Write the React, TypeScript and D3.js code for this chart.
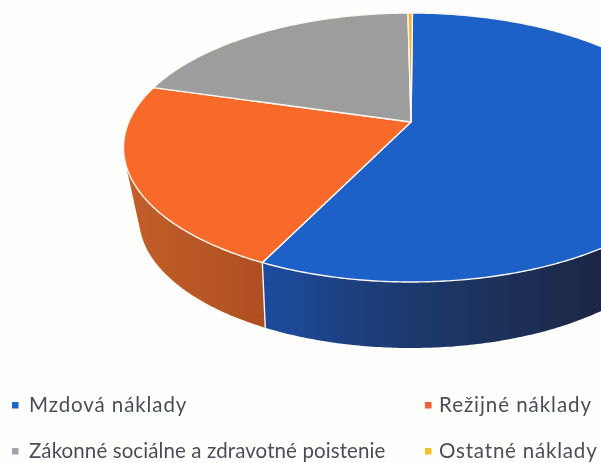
import React, { useEffect, useRef } from 'react';
import * as d3 from 'd3';

const categories = ['Mzdová náklady', 'Režijné náklady', 'Zákonné sociálne a zdravotné poistenie', 'Ostatné náklady'];
const shares = [57.1, 22.3, 20.3, 0.3];
const topColors = ['#1a61c8', '#f76b2b', '#9d9d9d', '#f2b632'];
const legendColors = ['#1c66cc', '#f2603a', '#a3a3ab', '#f5bf2f'];
// the long label is set tighter than the others in the scan
const labelSpacing = [0.9, 0.95, 0.1, 0.8];

const width = 601;
const height = 463;

// top face: ellipse seen in perspective, the centre of the pie is not the centre of the ellipse
const apex = { x: 411, y: 122 };
const reachFront = 160;
const reachBack = 109;
const k = (reachFront - reachBack) / (reachFront + reachBack);
const a = reachFront * (1 - k);
const c = 287.5 * Math.sqrt(1 - k * k);

// bottom rim of the wall
const floor = { cy: 218, rx: 272, ry: 130, shrink: 0.98 };

const project = (angle: number) => {
  const u = Math.sin(angle);
  const v = -Math.cos(angle);
  const w = 1 - k * v;
  return [apex.x + (c * u) / w, apex.y + (a * v) / w] as [number, number];
};

const projectFloor = (angle: number) => {
  const [px] = project(angle);
  const dx = Math.max(-floor.rx, Math.min(floor.rx, (px - apex.x) * floor.shrink));
  return [apex.x + dx, floor.cy + floor.ry * Math.sqrt(1 - (dx * dx) / (floor.rx * floor.rx))] as [number, number];
};

const sample = (from: number, to: number) => {
  const n = Math.max(2, Math.ceil(Math.abs(to - from) / 0.01));
  return d3.range(n + 1).map(i => from + ((to - from) * i) / n);
};

const App: React.FC = () => {
  const svgRef = useRef<SVGSVGElement>(null);

  useEffect(() => {
    if (!svgRef.current) return;
    const svg = d3.select(svgRef.current);
    svg.selectAll('*').remove();

    const defs = svg.append('defs');
    defs.append('filter').attr('id', 'scan').append('feGaussianBlur').attr('stdDeviation', 0.45);

    const blueWall = defs.append('linearGradient').attr('id', 'wall0')
      .attr('gradientUnits', 'userSpaceOnUse').attr('x1', 265).attr('x2', 601).attr('y1', 0).attr('y2', 0);
    blueWall.append('stop').attr('offset', 0).attr('stop-color', '#1c4c9e');
    blueWall.append('stop').attr('offset', 0.4).attr('stop-color', '#1f3a70');
    blueWall.append('stop').attr('offset', 1).attr('stop-color', '#1d2745');

    const orangeWall = defs.append('linearGradient').attr('id', 'wall1')
      .attr('gradientUnits', 'userSpaceOnUse').attr('x1', 125).attr('x2', 267).attr('y1', 0).attr('y2', 0);
    orangeWall.append('stop').attr('offset', 0).attr('stop-color', '#c35f2b');
    orangeWall.append('stop').attr('offset', 1).attr('stop-color', '#ae4e20');

    const pie = d3.pie<number>().sort(null).startAngle(0.006).endAngle(Math.PI * 2 + 0.006);
    const arcs = pie(shares);
    const color = d3.scaleOrdinal<number, string>().domain(d3.range(categories.length)).range(topColors);
    const line = d3.line().curve(d3.curveLinear);

    const g = svg.append('g').attr('filter', 'url(#scan)');

    // walls, only the part turned to the viewer. The top face covers what the hull adds above the rim
    const wallFrom = [Math.PI / 2, arcs[1].startAngle];
    const wallTo = [arcs[0].endAngle, (258 * Math.PI) / 180];
    wallFrom.forEach((from, i) => {
      const angles = sample(from, wallTo[i]);
      const hull = d3.polygonHull([...angles.map(project), ...angles.map(projectFloor)]);
      if (hull) g.append('path').attr('d', line(hull) + 'Z').attr('fill', `url(#wall${i})`);
    });

    // joint between blue and orange wall
    g.append('path')
      .attr('d', line([project(arcs[0].endAngle), projectFloor(arcs[0].endAngle)]))
      .attr('stroke', '#fdf6ee').attr('stroke-width', 1.4).attr('fill', 'none');

    // top face
    arcs.forEach((d, i) => {
      const rim = sample(d.startAngle, d.endAngle).map(project);
      g.append('path')
        .attr('d', line([[apex.x, apex.y], ...rim]) + 'Z')
        .attr('fill', color(i))
        .attr('stroke', '#fbf7f2')
        .attr('stroke-width', 1.4)
        .attr('stroke-linejoin', 'round');
    });

    // legend
    const legendX = d3.scaleOrdinal<number, number>().domain([0, 1]).range([12, 425]);
    const legendY = d3.scaleOrdinal<number, number>().domain([0, 1]).range([405, 451]);
    const legend = svg.append('g').attr('filter', 'url(#scan)');
    categories.forEach((name, i) => {
      const x = legendX(i % 2);
      const y = legendY(Math.floor(i / 2));
      legend.append('rect').attr('x', x).attr('y', y - 3).attr('width', 6.5).attr('height', 6.5).attr('fill', legendColors[i]);
      legend.append('text')
        .attr('x', x + (i % 2 ? 14 : 17))
        .attr('y', y + 7)
        .attr('font-family', 'Lato, sans-serif')
        .attr('font-size', 20.5)
        .attr('letter-spacing', labelSpacing[i])
        .attr('fill', '#4a4e58')
        .text(name);
    });
  }, []);

  return (
    <svg
      ref={svgRef}
      width={width}
      height={height}
      style={{ position: 'absolute', left: 0, top: 0, background: '#fefefd', display: 'block' }}
    />
  );
};

export default App;
